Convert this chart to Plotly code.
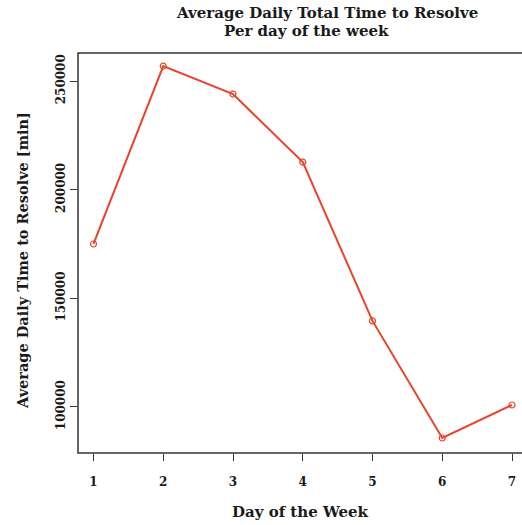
import plotly.graph_objects as go

# Average daily total time to resolve, by day of the week
days = [1, 2, 3, 4, 5, 6, 7]
avg_time_min = [175000, 256900, 244000, 212700, 139600, 85700, 100900]

x_ticks = [1, 2, 3, 4, 5, 6, 7]
y_ticks = [100000, 150000, 200000, 250000]

title_lines = ["Average Daily Total Time to Resolve", "Per day of the week"]
x_title = "Day of the Week"
y_title = "Average Daily Time to Resolve [min]"

LINE_RED = "#e8442a"
SERIF = "DejaVu Serif"
INK = "#1a1a1a"

fig = go.Figure()
fig.add_trace(go.Scatter(
    x=days, y=avg_time_min,
    mode="lines+markers",
    line=dict(color=LINE_RED, width=2),
    marker=dict(symbol="circle-open", size=6, color=LINE_RED, line=dict(width=1.2)),
    showlegend=False,
))

fig.update_layout(
    width=522, height=525,
    margin=dict(l=78, r=0, t=53, b=72),
    paper_bgcolor="white", plot_bgcolor="white",
    font=dict(family=SERIF, color=INK),
    xaxis=dict(
        range=[0.778, 7.143],
        tickvals=x_ticks, ticktext=[f"<b>{v}</b>" for v in x_ticks],
        ticks="outside", ticklen=7, tickwidth=1.2, tickcolor="#333",
        ticklabelstandoff=11,
        showgrid=False, zeroline=False, showline=False,
        tickfont=dict(family=SERIF, size=12),
        title=dict(text=f"<b>{x_title}</b>", standoff=18,
                   font=dict(family=SERIF, size=15)),
    ),
    yaxis=dict(
        range=[78800, 262900],
        tickvals=y_ticks, ticktext=[f"<b>{v}</b>" for v in y_ticks],
        tickangle=-90,
        ticks="outside", ticklen=7, tickwidth=1.2, tickcolor="#333",
        showgrid=False, zeroline=False, showline=False,
        tickfont=dict(family=SERIF, size=12),
    ),
)

# Y-axis title, vertical, sitting a little below the frame's middle
fig.add_annotation(
    text=f"<b>{y_title}</b>", textangle=-90,
    xref="paper", yref="paper", x=(22 - 78) / 444, y=(453 - 261) / 400,
    xanchor="center", yanchor="middle", showarrow=False,
    font=dict(family=SERIF, size=14.5, color=INK),
)

# Two-line title, set tight like the plotting device's own title
title_x = [0.561, 0.514]
title_y = [13.0, 30.5]
for line, tx, ty in zip(title_lines, title_x, title_y):
    fig.add_annotation(
        text=f"<b>{line}</b>", xref="paper", yref="paper",
        x=tx, y=1 + (53 - ty) / 400, xanchor="center", yanchor="middle",
        showarrow=False, borderpad=0,
        font=dict(family=SERIF, size=15, color=INK),
    )

# Plot frame (left, top, bottom edges; right edge runs past the page)
fig.add_shape(type="rect", xref="paper", yref="paper",
              x0=0, x1=1.05, y0=0, y1=1,
              line=dict(color="#333", width=1.5), layer="above")

fig.write_html("out.html")
